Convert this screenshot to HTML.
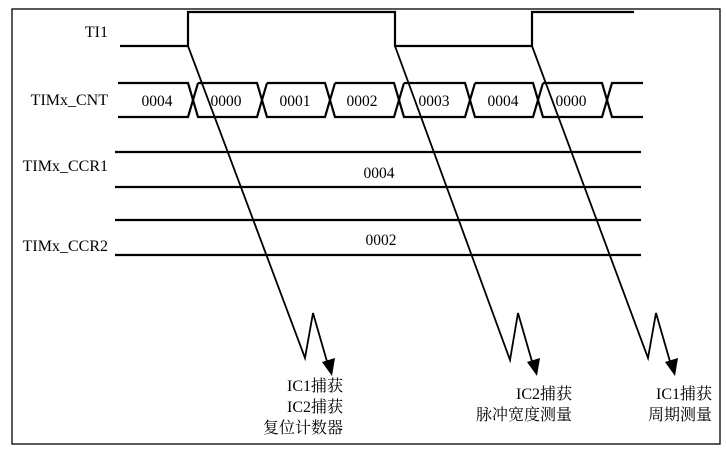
<!DOCTYPE html>
<html><head><meta charset="utf-8"><style>
html,body{margin:0;padding:0;background:#fff;}
svg{display:block;}
text{font-family:"Liberation Serif","Noto Serif CJK SC",serif;fill:#000;}
</style></head><body>
<svg width="726" height="457" viewBox="0 0 726 457" xmlns="http://www.w3.org/2000/svg">
<rect x="12" y="9" width="708" height="435" fill="none" stroke="#000" stroke-width="1.3"/>
<g stroke="#000" stroke-width="2.2" fill="none">
<polyline points="120,46 188,46 188,12 395,12 395,46 532,46 532,12 634,12"/>
<polyline points="118,83 188,83 193,100 188,117 118,117"/>
<polyline points="198,83 257,83 262,100 257,117 198,117 193,100 198,83"/>
<polyline points="267,83 325,83 330,100 325,117 267,117 262,100 267,83"/>
<polyline points="335,83 394,83 399,100 394,117 335,117 330,100 335,83"/>
<polyline points="404,83 465,83 470,100 465,117 404,117 399,100 404,83"/>
<polyline points="475,83 533,83 538,100 533,117 475,117 470,100 475,83"/>
<polyline points="543,83 602,83 607,100 602,117 543,117 538,100 543,83"/>
<polyline points="643,83 612,83 607,100 612,117 643,117"/>
<line x1="115" y1="152" x2="641" y2="152"/>
<line x1="115" y1="187" x2="641" y2="187"/>
<line x1="115" y1="220" x2="641" y2="220"/>
<line x1="115" y1="255" x2="641" y2="255"/>
</g>
<g stroke="#000" stroke-width="1.8" fill="none">
<polyline points="188,46 305,358 313,313 328,365"/>
<polyline points="395,46 510,360 518,313 533,365"/>
<polyline points="532,46 648,358 656,313 671,365"/>
</g>
<g fill="#000">
<polygon points="332,376 322,362 335,358"/>
<polygon points="537,376 527,362 540,358"/>
<polygon points="675,376 665,362 678,358"/>
</g>
<g font-size="16">
<text x="108" y="37" text-anchor="end">TI1</text>
<text x="108" y="105" text-anchor="end">TIMx_CNT</text>
<text x="108" y="171" text-anchor="end">TIMx_CCR1</text>
<text x="108" y="251" text-anchor="end">TIMx_CCR2</text>
</g>
<g font-size="15.5" text-anchor="middle">
<text x="157" y="106">0004</text>
<text x="226" y="106">0000</text>
<text x="295" y="106">0001</text>
<text x="362" y="106">0002</text>
<text x="434" y="106">0003</text>
<text x="503" y="106">0004</text>
<text x="571" y="106">0000</text>
<text x="379" y="178">0004</text>
<text x="381" y="245">0002</text>
</g>
<g font-size="16" text-anchor="end">
<text x="343" y="391">IC1捕获</text>
<text x="343" y="412">IC2捕获</text>
<text x="343" y="433">复位计数器</text>
<text x="572" y="399">IC2捕获</text>
<text x="572" y="420">脉冲宽度测量</text>
<text x="712" y="399">IC1捕获</text>
<text x="712" y="420">周期测量</text>
</g>
</svg>
</body></html>
